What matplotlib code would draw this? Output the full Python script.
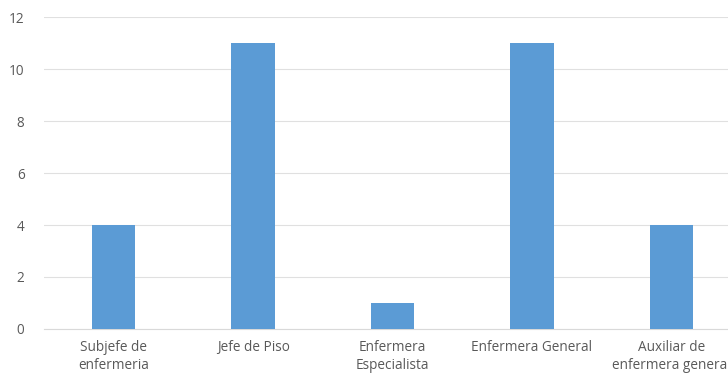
import matplotlib.pyplot as plt
import numpy as np

# Personal de enfermería por puesto
categorias = ['Subjefe de\nenfermeria', 'Jefe de Piso', 'Enfermera\nEspecialista',
              'Enfermera General', 'Auxiliar de\nenfermera general']
valores = [4, 11, 1, 11, 4]
y_ticks = [0, 2, 4, 6, 8, 10, 12]

plt.rcParams['font.family'] = ['Open Sans', 'DejaVu Sans']

fig = plt.figure(figsize=(7.28, 3.79), dpi=100)
# the plot area runs a little past the right edge of the image
ax = fig.add_axes([44 / 728, 50 / 379, 697 / 728, 312 / 379])

x = np.arange(len(categorias))
ax.bar(x, valores, width=0.31, color='#5B9BD5', zorder=3)

ax.set_xlim(-0.5, len(categorias) - 0.5)
ax.set_ylim(0, 12)
ax.set_yticks(y_ticks)
ax.set_xticks(x)
ax.set_xticklabels(categorias, linespacing=1.3)

ax.grid(axis='y', color='#E0E0E0', linewidth=0.8, zorder=0)
for side in ['top', 'right', 'left']:
    ax.spines[side].set_visible(False)
ax.spines['bottom'].set_color('#D9D9D9')
ax.spines['bottom'].set_linewidth(0.8)

ax.tick_params(axis='both', length=0, labelsize=9.8, colors='#595959')
ax.tick_params(axis='y', pad=14)
ax.tick_params(axis='x', pad=8)

fig.savefig('out.png', dpi=100)
